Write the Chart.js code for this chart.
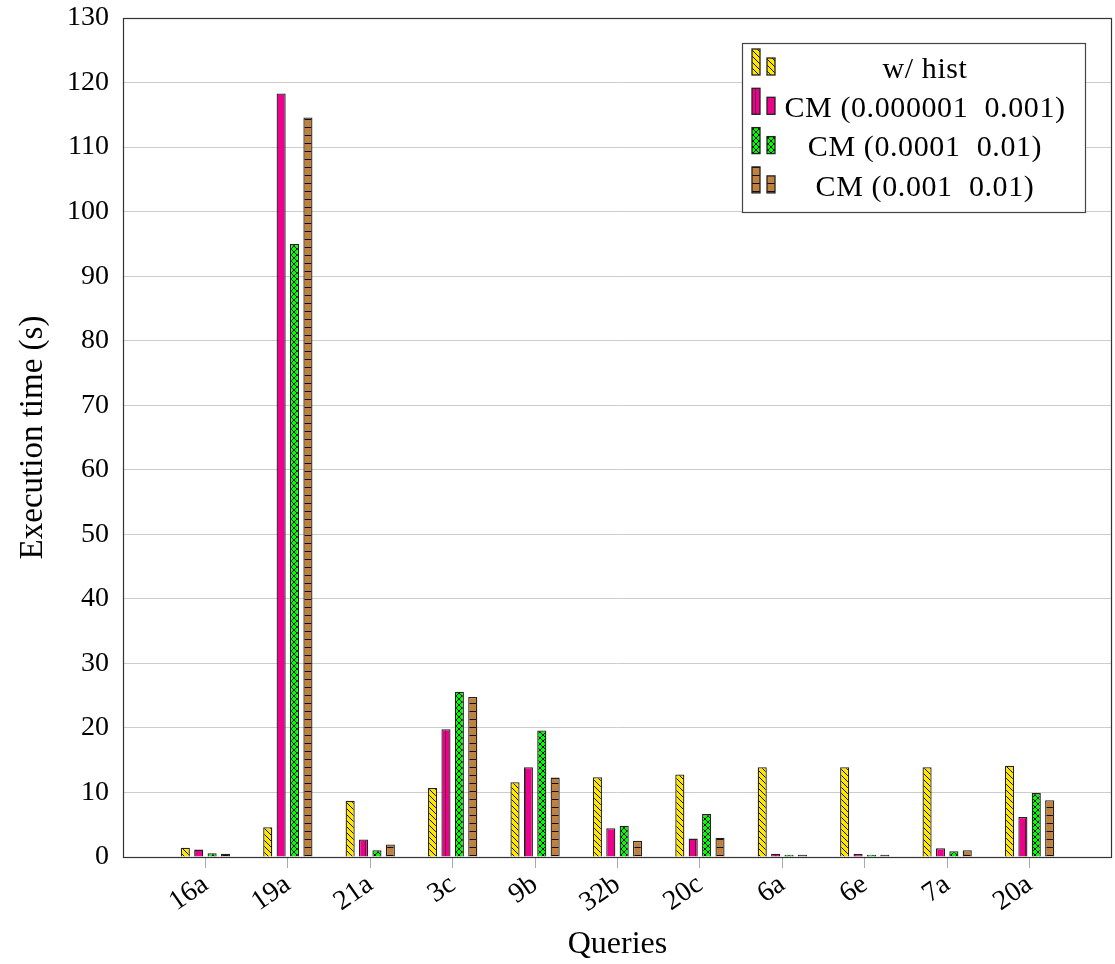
<!DOCTYPE html>
<html>
<head>
<meta charset="utf-8">
<script src="https://cdn.jsdelivr.net/npm/chart.js@4/dist/chart.umd.min.js"></script>
<style>
  html, body { margin: 0; padding: 0; background: #fff; }
</style>
</head>
<body>
<canvas id="myChart" width="1115" height="964"></canvas>
<script>
// datos
const queries = ['16a', '19a', '21a', '3c', '9b', '32b', '20c', '6a', '6e', '7a', '20a'];
const wHist = [1.45, 4.6, 8.7, 10.7, 11.6, 12.35, 12.8, 13.9, 13.9, 13.9, 14.15];
const cm000001 = [1.15, 118.3, 2.7, 19.8, 13.9, 4.45, 2.85, 0.5, 0.45, 1.35, 6.2];
const cm0001 = [0.6, 95.0, 1.05, 25.6, 19.6, 4.85, 6.65, 0.35, 0.35, 0.9, 9.9];
const cm001 = [0.5, 114.6, 1.95, 24.8, 12.3, 2.5, 3.0, 0.35, 0.35, 1.05, 8.8];
const seriesNames = ['w/ hist', 'CM (0.000001  0.001)', 'CM (0.0001  0.01)', 'CM (0.001  0.01)'];
const yMax = 130;
const yStep = 10;

const ctx = document.getElementById('myChart');
const FONT = "'Liberation Serif', 'DejaVu Serif', serif";

// crea un patron de relleno a partir de un pequeño canvas
function makePattern(bg, size, drawFn) {
    const c = document.createElement('canvas');
    c.width = size; c.height = size;
    const g = c.getContext('2d');
    g.fillStyle = bg;
    g.fillRect(0, 0, size, size);
    g.strokeStyle = '#111';
    g.lineWidth = 1;
    drawFn(g, size);
    return ctx.getContext('2d').createPattern(c, 'repeat');
}

const patYellow = makePattern('#ffe600', 6, (g, s) => {
    g.beginPath();
    g.moveTo(-1, -1); g.lineTo(s + 1, s + 1);
    g.moveTo(-1, s - 1); g.lineTo(1, s + 1);
    g.moveTo(s - 1, -1); g.lineTo(s + 1, 1);
    g.stroke();
});
const patPink = makePattern('#ec008c', 10, (g, s) => {
    g.strokeStyle = '#70003f';
    g.beginPath();
    g.moveTo(5.5, 0); g.lineTo(5.5, s);
    g.stroke();
});
const patGreen = makePattern('#00ff00', 6, (g, s) => {
    g.beginPath();
    g.moveTo(0, 0); g.lineTo(s, s);
    g.moveTo(s, 0); g.lineTo(0, s);
    g.stroke();
});
const patBrown = makePattern('#c08040', 8, (g, s) => {
    g.beginPath();
    g.moveTo(0, 7.5); g.lineTo(s, 7.5);
    g.stroke();
});
const patterns = [patYellow, patPink, patGreen, patBrown];

// etiquetas vacias en los extremos para dejar un hueco de una categoria
const labels = ['', ...queries, ''];
const pad = arr => [null, ...arr, null];

// marco del area y leyenda al estilo pgfplots
const framePlugin = {
    id: 'frameLegend',
    afterDraw(chart) {
        const c = chart.ctx;
        const a = chart.chartArea;
        c.save();
        c.strokeStyle = '#333';
        c.lineWidth = 1.2;
        c.strokeRect(a.left + 0.5, a.top + 0.5, a.right - a.left - 1, a.bottom - a.top);

        const lx = a.right - 370, ly = a.top + 25, lw = 343, lh = 169;
        c.fillStyle = '#fff';
        c.fillRect(lx, ly, lw, lh);
        c.strokeStyle = '#444';
        c.strokeRect(lx + 0.5, ly + 0.5, lw, lh);

        c.font = '30px ' + FONT;
        c.letterSpacing = '0.6px';
        c.textAlign = 'center';
        c.textBaseline = 'middle';
        seriesNames.forEach((name, i) => {
            const bottom = ly + 32 + i * 39.3;
            c.lineWidth = 1.3;
            c.strokeStyle = '#222';
            c.fillStyle = patterns[i];
            c.fillRect(lx + 10, bottom - 26, 8, 26);
            c.strokeRect(lx + 10, bottom - 26, 8, 26);
            c.fillRect(lx + 25, bottom - 17, 8, 17);
            c.strokeRect(lx + 25, bottom - 17, 8, 17);
            c.fillStyle = '#000';
            c.fillText(name, lx + 183, bottom - 5);
        });
        c.restore();
    }
};

const mkSet = (label, data, i) => ({
    label,
    data: pad(data),
    backgroundColor: patterns[i],
    borderColor: '#222',
    borderWidth: 1.3,
    borderSkipped: 'bottom',
    categoryPercentage: 0.65,
    barPercentage: 0.68
});

new Chart(ctx, {
    type: 'bar',
    data: {
        labels,
        datasets: [
            mkSet(seriesNames[0], wHist, 0),
            mkSet(seriesNames[1], cm000001, 1),
            mkSet(seriesNames[2], cm0001, 2),
            mkSet(seriesNames[3], cm001, 3)
        ]
    },
    plugins: [framePlugin],
    options: {
        responsive: false,
        animation: false,
        layout: { padding: { left: 10, right: 3, top: 18, bottom: 0 } },
        plugins: {
            legend: { display: false },
            tooltip: { enabled: false }
        },
        scales: {
            x: {
                type: 'category',
                offset: false,
                border: { display: false },
                grid: {
                    offset: false,
                    drawOnChartArea: false,
                    drawTicks: true,
                    tickLength: 11,
                    color: ctx2 => (ctx2.index === 0 || ctx2.index === labels.length - 1) ? 'rgba(0,0,0,0)' : '#aaa'
                },
                ticks: {
                    autoSkip: false,
                    minRotation: 35,
                    maxRotation: 35,
                    padding: 0,
                    color: '#000',
                    font: { family: FONT, size: 28 }
                },
                title: {
                    display: true,
                    text: 'Queries',
                    color: '#000',
                    padding: { top: 0, bottom: 0 },
                    font: { family: FONT, size: 32 }
                },
                afterFit(scale) {
                    scale.height = 107;
                    scale.paddingLeft = 0;
                    scale.paddingRight = 0;
                }
            },
            y: {
                min: 0,
                max: yMax,
                border: { display: false },
                grid: { color: '#cccccc', drawTicks: false },
                ticks: {
                    stepSize: yStep,
                    padding: 14,
                    color: '#000',
                    font: { family: FONT, size: 28 }
                },
                title: {
                    display: true,
                    text: 'Execution time (s)',
                    color: '#000',
                    font: { family: FONT, size: 33 }
                },
                afterFit(scale) {
                    scale.width = 113;
                    scale.paddingTop = 0;
                    scale.paddingBottom = 0;
                }
            }
        }
    }
});
</script>
</body>
</html>
